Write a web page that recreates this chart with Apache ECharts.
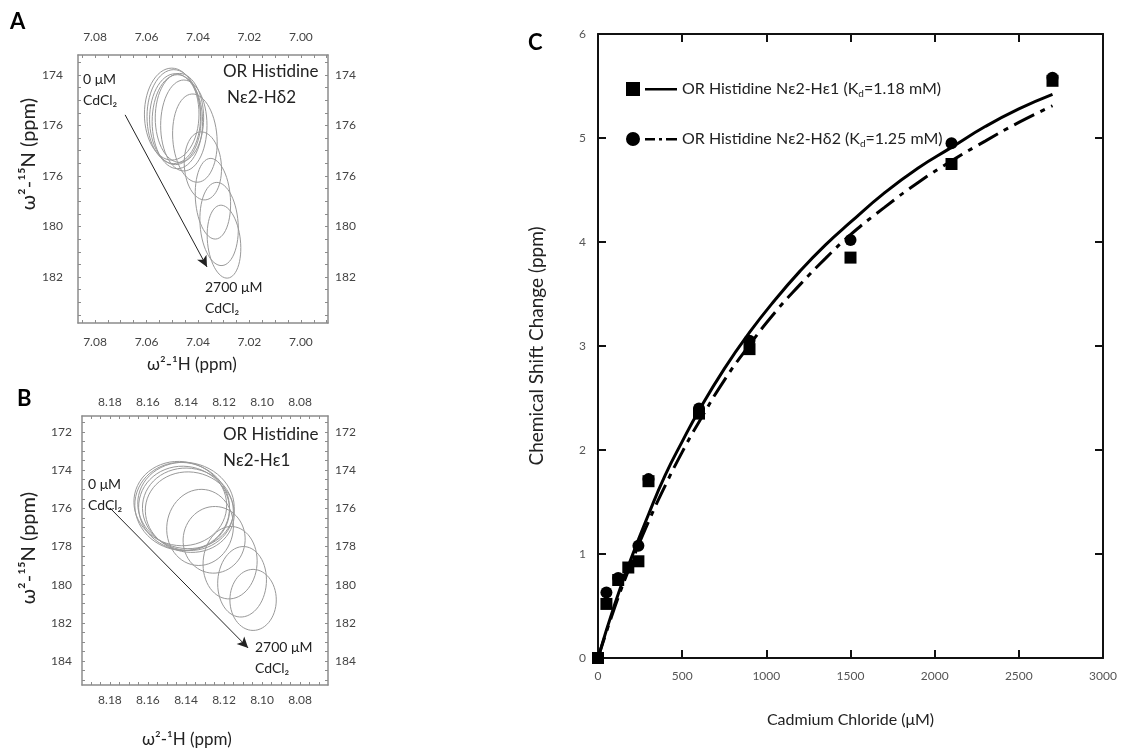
<!DOCTYPE html>
<html>
<head>
<meta charset="utf-8">
<script src="https://cdn.jsdelivr.net/npm/echarts@6/dist/echarts.min.js"></script>
<style>
  html, body { margin: 0; padding: 0; background: #fff; }
  #main { width: 1121px; height: 753px; }
</style>
</head>
<body>
<div id="main"></div>
<script>
// ---- panel C: titration data (Cadmium chloride, uM) ----
var conc = [0, 50, 120, 180, 240, 300, 600, 900, 1500, 2100, 2700];
var shiftHe1 = [0, 0.52, 0.75, 0.87, 0.93, 1.70, 2.35, 2.97, 3.85, 4.75, 5.55];   // squares
var concHd2 = [0, 50, 120, 240, 300, 600, 900, 1500, 2100, 2700];
var shiftHd2 = [0, 0.63, 0.77, 1.08, 1.72, 2.40, 3.05, 4.02, 4.95, 5.58];          // circles

// fitted curves
var fitX = [0, 100, 200, 300, 400, 500, 600, 750, 900, 1050, 1200, 1350, 1500, 1700, 1900, 2100, 2300, 2500, 2700];
var fitHe1 = [0, 0.52, 0.97, 1.38, 1.76, 2.08, 2.38, 2.78, 3.13, 3.44, 3.72, 3.97, 4.19, 4.47, 4.71, 4.91, 5.11, 5.28, 5.42];
var fitHd2 = [0, 0.49, 0.92, 1.31, 1.66, 1.98, 2.27, 2.67, 3.01, 3.32, 3.59, 3.84, 4.07, 4.33, 4.57, 4.78, 4.97, 5.15, 5.31];

// ---- panel A: Ne2-Hd2 contours [1H ppm, 15N ppm, half width 1H, half width 15N, tilt deg] ----
var contoursA = [
  [7.0502, 175.55, 0.0106, 1.82, 0],
  [7.0494, 175.65, 0.0104, 1.86, 0],
  [7.0488, 175.75, 0.0100, 1.80, 0],
  [7.0480, 175.85, 0.0098, 1.86, 0],
  [7.0472, 175.70, 0.0094, 1.76, 0],
  [7.0455, 176.00, 0.0090, 1.80, 0],
  [7.0412, 176.50, 0.0086, 1.75, -4],
  [7.0381, 177.60, 0.0072, 1.35, -4],
  [7.0342, 178.90, 0.0068, 1.60, -4],
  [7.0318, 179.90, 0.0074, 1.65, -4],
  [7.0299, 180.60, 0.0064, 1.45, -6]
];
var arrowA = [[7.0683, 175.58], [7.0365, 181.60]];

// ---- panel B: Ne2-He1 contours ----
var contoursB = [
  [8.1430, 175.75, 0.0245, 2.20, 12],
  [8.1420, 175.90, 0.0250, 2.30, 12],
  [8.1410, 176.00, 0.0240, 2.20, 12],
  [8.1400, 175.85, 0.0255, 2.25, 12],
  [8.1390, 176.05, 0.0240, 2.15, 12],
  [8.1380, 176.20, 0.0235, 2.10, 12],
  [8.1326, 177.00, 0.0175, 2.00, 8],
  [8.1252, 177.65, 0.0163, 1.75, 8],
  [8.1168, 178.85, 0.0142, 1.90, 4],
  [8.1105, 179.85, 0.0128, 1.85, 4],
  [8.1047, 180.80, 0.0122, 1.60, 0]
];
var arrowB = [[8.1800, 175.98], [8.1073, 183.32]];

// tick labels
var aXTicks = [7.08, 7.06, 7.04, 7.02, 7.00];
var aYTicks = [174, 176, 178, 180, 182];
var aYLabels = ['174', '176', '176', '180', '182'];
var bXTicks = [8.18, 8.16, 8.14, 8.12, 8.10, 8.08];
var bYTicks = [172, 174, 176, 178, 180, 182, 184];

function steps(from, to, step) {
  var out = [];
  for (var v = from; v <= to + step / 2; v += step) out.push(+v.toFixed(4));
  return out;
}
var aXMinor = steps(6.990, 7.085, 0.005);
var aYMinor = steps(173.5, 183.5, 0.5);
var bXMinor = steps(8.065, 8.190, 0.005);
var bYMinor = steps(171.5, 185.0, 0.5);

var FONT = 'Lato, "Open Sans", sans-serif';
var grey = '#8c8c8c';

function pair(a, b) { return a.map(function (v, i) { return [v, b[i]]; }); }

function ellipse(params, api) {
  var c = api.coord([api.value(0), api.value(1)]);
  var s = api.size([api.value(2), api.value(3)], [api.value(0), api.value(1)]);
  var rot = api.value(4) * Math.PI / 180;
  var pts = [];
  for (var i = 0; i < 60; i++) {
    var t = i / 60 * 2 * Math.PI;
    var ex = s[0] * Math.cos(t), ey = s[1] * Math.sin(t);
    pts.push([c[0] + ex * Math.cos(rot) - ey * Math.sin(rot),
              c[1] + ex * Math.sin(rot) + ey * Math.cos(rot)]);
  }
  return { type: 'polygon', shape: { points: pts }, style: { fill: 'none', stroke: '#999', lineWidth: 1 } };
}

// spectrum box axes (A, B)
function specX(grid, pos, min, max, ticks, minor, margin) {
  return {
    type: 'value', gridIndex: grid, position: pos, inverse: true, min: min, max: max,
    axisLine: { lineStyle: { color: grey, width: 1.5 } },
    axisTick: { inside: true, length: 3, customValues: minor, lineStyle: { color: grey } },
    axisLabel: { customValues: ticks, margin: margin, color: '#444', fontSize: 12, fontFamily: FONT,
      formatter: function (v) { return v.toFixed(2); } },
    splitLine: { show: false }
  };
}
function specY(grid, pos, min, max, ticks, labels, minor, margin) {
  return {
    type: 'value', gridIndex: grid, position: pos, inverse: true, min: min, max: max,
    axisLine: { onZero: false, lineStyle: { color: grey, width: 1.5 } },
    axisTick: { inside: true, length: 3, customValues: minor, lineStyle: { color: grey } },
    axisLabel: { customValues: ticks, margin: margin, color: '#444', fontSize: 12, fontFamily: FONT,
      formatter: function (v) { var i = ticks.indexOf(Math.round(v)); return labels ? labels[i] : String(Math.round(v)); } },
    splitLine: { show: false }
  };
}
function plotAxis(grid, pos, isX, showLabel) {
  return {
    type: 'value', gridIndex: grid, position: pos,
    min: 0, max: isX ? 3000 : 6, interval: isX ? 500 : 1,
    axisLine: { onZero: false, lineStyle: { color: '#111', width: 2 } },
    axisTick: { inside: true, length: 8, lineStyle: { color: '#111', width: 2 } },
    axisLabel: { show: showLabel, margin: 12, color: '#555', fontSize: 12, fontFamily: FONT,
      formatter: function (v) { return String(v); } },
    splitLine: { show: false }
  };
}

function arrowLine(pts) {
  return {
    silent: true, symbol: ['none', 'arrow'], symbolSize: [8, 11],
    label: { show: false },
    lineStyle: { color: '#222', width: 1, type: 'solid' },
    data: [[{ coord: pts[0] }, { coord: pts[1] }]]
  };
}

function txt(x, y, text, size, opts) {
  opts = opts || {};
  return {
    type: 'text', left: x, top: y - size * 0.65,
    style: { text: text, fill: opts.color || '#222', font: (opts.bold ? 'bold ' : '') + size + 'px ' + FONT }
  };
}

var chart = echarts.init(document.getElementById('main'));
chart.setOption({
  backgroundColor: '#fff',
  animation: false,
  grid: [
    { left: 78, top: 55, width: 250, height: 268 },
    { left: 82, top: 416, width: 246, height: 269 },
    { left: 598, top: 34, width: 505, height: 624 }
  ],
  xAxis: [
    specX(0, 'bottom', 6.9895, 7.0866, aXTicks, aXMinor, 13),
    specX(0, 'top', 6.9895, 7.0866, aXTicks, aXMinor, 12),
    specX(1, 'bottom', 8.0653, 8.1947, bXTicks, bXMinor, 9),
    specX(1, 'top', 8.0653, 8.1947, bXTicks, bXMinor, 8),
    Object.assign(plotAxis(2, 'bottom', true, true), {
      name: 'Cadmium Chloride (\u03bcM)', nameLocation: 'middle', nameGap: 54,
      nameTextStyle: { fontSize: 16, color: '#222', fontFamily: FONT }
    }),
    plotAxis(2, 'top', true, false)
  ],
  yAxis: [
    specY(0, 'left', 173.21, 183.82, aYTicks, aYLabels, aYMinor, 15),
    specY(0, 'right', 173.21, 183.82, aYTicks, aYLabels, aYMinor, 7),
    specY(1, 'left', 171.16, 185.26, bYTicks, null, bYMinor, 10),
    specY(1, 'right', 171.16, 185.26, bYTicks, null, bYMinor, 7),
    Object.assign(plotAxis(2, 'left', false, true), {
      name: 'Chemical Shift Change (ppm)', nameLocation: 'middle', nameGap: 52,
      nameTextStyle: { fontSize: 19, color: '#222', fontFamily: FONT }
    }),
    plotAxis(2, 'right', false, false)
  ],
  legend: {
    orient: 'vertical', left: 621, top: 76, itemWidth: 51, itemHeight: 14, itemGap: 32,
    selectedMode: false,
    data: [
      { name: 'He1', icon: 'path://M0,0H14V14H0Z M19,6H51V8.5H19Z' },
      { name: 'Hd2', icon: 'path://M0,7A7,7 0 1,1 14,7A7,7 0 1,1 0,7Z M19,6H29V8.5H19Z M33,6H36V8.5H33Z M40,6H51V8.5H40Z' }
    ],
    formatter: function (n) {
      return n === 'He1'
        ? '{t|OR Histidine N\u03b52-H\u03b51 (K}{s|d}{t|=1.18 mM)}'
        : '{t|OR Histidine N\u03b52-H\u03b42 (K}{s|d}{t|=1.25 mM)}';
    },
    textStyle: {
      rich: {
        t: { fontSize: 16, color: '#222', fontFamily: FONT, lineHeight: 20 },
        s: { fontSize: 10, color: '#222', fontFamily: FONT, lineHeight: 20, verticalAlign: 'bottom', padding: [6, 0, 0, 0] }
      }
    }
  },
  series: [
    {
      type: 'custom', name: 'A', xAxisIndex: 0, yAxisIndex: 0, renderItem: ellipse, clip: true,
      data: contoursA, markLine: arrowLine(arrowA), silent: true
    },
    {
      type: 'custom', name: 'B', xAxisIndex: 2, yAxisIndex: 2, renderItem: ellipse, clip: true,
      data: contoursB, markLine: arrowLine(arrowB), silent: true
    },
    {
      type: 'line', name: 'He1', xAxisIndex: 4, yAxisIndex: 4, data: pair(fitX, fitHe1),
      smooth: true, showSymbol: false, lineStyle: { color: '#000', width: 3 }, itemStyle: { color: '#000' }
    },
    {
      type: 'line', name: 'Hd2', xAxisIndex: 4, yAxisIndex: 4, data: pair(fitX, fitHd2),
      smooth: true, showSymbol: false, itemStyle: { color: '#000' },
      lineStyle: { color: '#000', width: 3, type: [22, 7, 5, 7] }
    },
    {
      type: 'scatter', name: 'He1 pts', xAxisIndex: 4, yAxisIndex: 4, data: pair(conc, shiftHe1),
      symbol: 'rect', symbolSize: 12, itemStyle: { color: '#000', opacity: 1 }
    },
    {
      type: 'scatter', name: 'Hd2 pts', xAxisIndex: 4, yAxisIndex: 4, data: pair(concHd2, shiftHd2),
      symbol: 'circle', symbolSize: 12, itemStyle: { color: '#000', opacity: 1 }
    }
  ],
  graphic: [
    txt(10, 25, 'A', 22, { bold: true, color: '#000' }),
    txt(17, 402, 'B', 22, { bold: true, color: '#000' }),
    txt(528, 46, 'C', 22, { bold: true, color: '#000' }),
    // panel A annotations
    txt(223, 74, 'OR Histidine', 17),
    txt(227, 100, 'N\u03b52-H\u03b42', 17),
    txt(83, 82, '0 \u03bcM', 14),
    txt(83, 103, 'CdCl\u2082', 14),
    txt(205, 290, '2700 \u03bcM', 14),
    txt(205, 311, 'CdCl\u2082', 14),
    txt(147, 367, '\u03c9\u00b2-\u00b9H (ppm)', 17),
    { type: 'text', left: 19, top: 98, rotation: Math.PI / 2,
      style: { text: '\u03c9\u00b2-\u00b9\u2075N (ppm)', fill: '#222', font: '20px ' + FONT } },
    // panel B annotations
    txt(223, 437, 'OR Histidine', 17),
    txt(223, 463, 'N\u03b52-H\u03b51', 17),
    txt(88, 487, '0 \u03bcM', 14),
    txt(88, 508, 'CdCl\u2082', 14),
    txt(255, 650, '2700 \u03bcM', 14),
    txt(255, 671, 'CdCl\u2082', 14),
    txt(142, 742, '\u03c9\u00b2-\u00b9H (ppm)', 17),
    { type: 'text', left: 19, top: 492, rotation: Math.PI / 2,
      style: { text: '\u03c9\u00b2-\u00b9\u2075N (ppm)', fill: '#222', font: '20px ' + FONT } }
  ]
});
</script>
</body>
</html>
